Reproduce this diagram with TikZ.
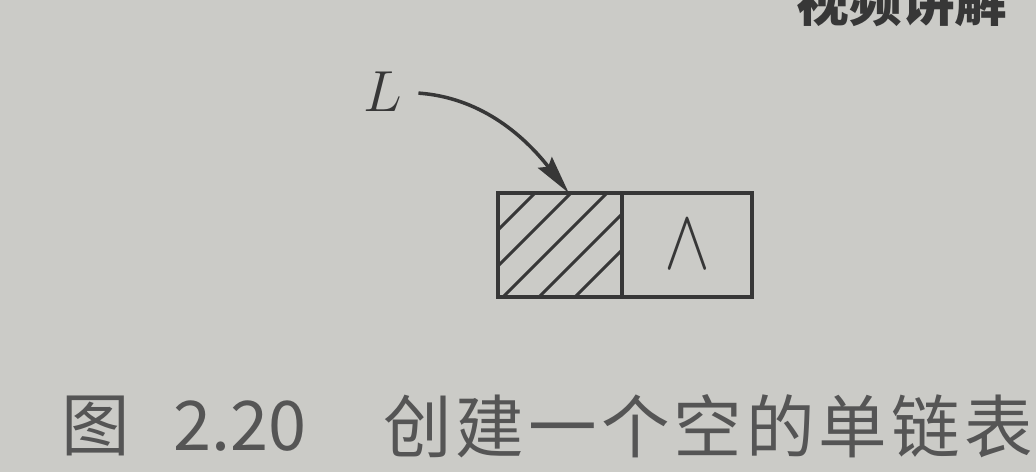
\RequirePackage{fix-cm}
\documentclass[tikz,border=0pt]{standalone}
\usepackage{fontspec}
\usepackage{graphicx}
\usetikzlibrary{positioning,arrows.meta}
\newfontfamily\cjk{Noto Sans CJK SC}
\newfontfamily\cjkwide{Noto Sans CJK SC}[LetterSpace=6]
\definecolor{paper}{RGB}{203,203,199}
\definecolor{ink}{RGB}{55,55,55}

\begin{document}
\begin{tikzpicture}[%
  x=0.02cm,y=-0.02cm,
  cell/.style={draw=ink,line width=2.2pt,minimum width=2.48cm,
    minimum height=2.08cm,inner sep=0pt,outer sep=0pt},
  hatch/.style={draw=ink,line width=1.7pt},
  ptr/.style={draw=ink,line width=2pt,shorten <=9pt,
    -{Stealth[length=22pt,width=10pt,inset=3pt]}},
  caption/.style={font=\cjk\fontsize{39}{39}\selectfont,text=ink!85,inner sep=0pt}]
\useasboundingbox (0,0) rectangle (1036,472);
\fill[paper] (0,0) rectangle (1036,472);
\clip (0,0) rectangle (1036,472);

% the head node and its null link
\node[cell] (head) at (560,245) {};
\node[cell,minimum width=2.6cm,right=0pt of head,
  font=\fontsize{49}{49}\selectfont,text=ink] (null) {\scalebox{0.8}[1]{$\wedge$}};
\begin{scope}
  \clip (head.south west) rectangle (head.north east);
  \foreach \c in {728,764,800,836,872}
    \draw[hatch] (\c-300,300) -- (\c-190,190);
\end{scope}
\draw[ink,line width=2.2pt] (head.north east) -- (head.south east);

% head pointer
\node[font=\fontsize{33}{33}\selectfont,text=ink,inner sep=0pt] (L) at (383,92) {$L$};
\draw[ptr] (L.east) to[out=-4,in=128] ([xshift=5pt]head.north);

% captions
\node[caption,font=\cjk\bfseries\fontsize{30}{30}\selectfont,text=ink] (video) at (902,2) {视频讲解};
\node[caption] (fig) at (96,426) {图};
\node[caption] (num) at (240,426) {2.20};
\node[caption,font=\cjkwide\fontsize{39}{39}\selectfont] (title) at (708,426) {创建一个空的单链表};
\end{tikzpicture}
\end{document}
